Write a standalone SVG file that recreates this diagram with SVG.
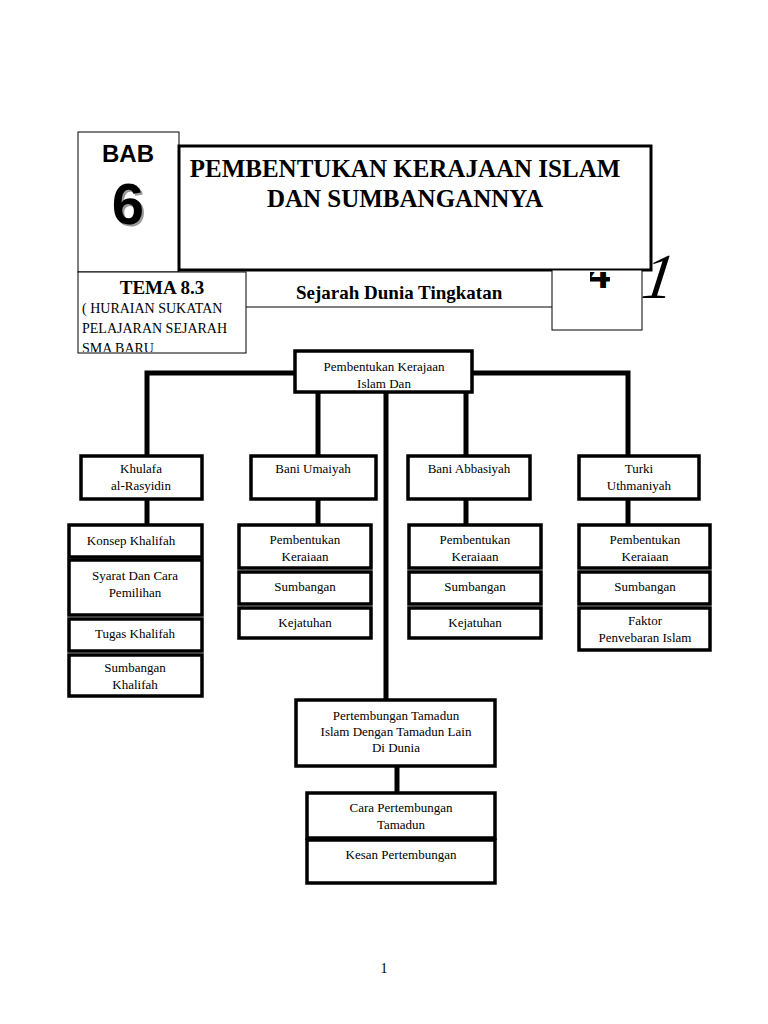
<svg xmlns="http://www.w3.org/2000/svg" width="768" height="1024" viewBox="0 0 768 1024">
<style>
.thin{fill:#fff;stroke:#000;stroke-width:1}
.box{fill:#fff;stroke:#000;stroke-width:3.5}
.t{font-family:"Liberation Serif",serif;font-size:13px;text-anchor:middle;fill:#000}
.c{stroke:#000;stroke-width:5;fill:none}
</style>
<defs>
<clipPath id="rc"><rect x="296" y="352" width="175" height="39"/></clipPath>
<clipPath id="tc"><rect x="78" y="340" width="168" height="12"/></clipPath>
<clipPath id="fc"><rect x="590" y="272" width="20" height="16"/></clipPath>
</defs>
<rect width="768" height="1024" fill="#fff"/>
<g id="header">
<text x="658" y="298" font-family="Liberation Serif,serif" font-style="italic" font-size="64" text-anchor="middle" transform="skewX(-8) translate(40,0)">1</text>
<rect class="thin" x="78" y="132" width="101" height="140"/>
<text x="128" y="162" font-family="Liberation Sans,sans-serif" font-weight="bold" font-size="24" text-anchor="middle">BAB</text>
<text x="130" y="226" font-family="Liberation Sans,sans-serif" font-weight="bold" font-size="58" text-anchor="middle" fill="#999">6</text>
<text x="128" y="224" font-family="Liberation Sans,sans-serif" font-weight="bold" font-size="58" text-anchor="middle">6</text>
<rect x="179" y="146" width="472" height="124" fill="#fff" stroke="#000" stroke-width="3"/>
<text x="405" y="177" font-family="Liberation Serif,serif" font-weight="bold" font-size="25" text-anchor="middle">PEMBENTUKAN KERAJAAN ISLAM</text>
<text x="405" y="207" font-family="Liberation Serif,serif" font-weight="bold" font-size="25" text-anchor="middle">DAN SUMBANGANNYA</text>
<rect class="thin" x="78" y="272" width="168" height="81"/>
<text x="162" y="294" font-family="Liberation Serif,serif" font-weight="bold" font-size="19" text-anchor="middle">TEMA 8.3</text>
<text x="82" y="313" font-family="Liberation Serif,serif" font-size="14">( HURAIAN SUKATAN</text>
<text x="82" y="333" font-family="Liberation Serif,serif" font-size="14">PELAJARAN SEJARAH</text>
<text x="82" y="353" font-family="Liberation Serif,serif" font-size="14" clip-path="url(#tc)">SMA BARU</text>
<line x1="246" y1="307" x2="552" y2="307" stroke="#000" stroke-width="1"/>
<text x="296" y="299" font-family="Liberation Serif,serif" font-weight="bold" font-size="19">Sejarah Dunia Tingkatan</text>
<rect class="thin" x="552" y="270" width="90" height="60"/>
<text x="598" y="288" font-family="Liberation Sans,sans-serif" font-weight="bold" font-size="44" text-anchor="middle" clip-path="url(#fc)">4</text>
</g>
<g id="connectors">
<polyline class="c" points="147,455 147,373 628,373 628,455"/>
<line class="c" x1="318" y1="373" x2="318" y2="455"/>
<line class="c" x1="466" y1="373" x2="466" y2="455"/>
<line class="c" x1="386" y1="393" x2="386" y2="700"/>
<line class="c" x1="147" y1="499" x2="147" y2="525"/>
<line class="c" x1="318" y1="499" x2="318" y2="525"/>
<line class="c" x1="466" y1="499" x2="466" y2="525"/>
<line class="c" x1="628" y1="499" x2="628" y2="525"/>
<line class="c" x1="397" y1="766" x2="397" y2="792"/>
</g>
<g id="root"><rect class="box" x="295" y="351" width="177" height="41"/>
<g clip-path="url(#rc)"><text class="t" x="384" y="371">Pembentukan Kerajaan</text><text class="t" x="384" y="388">Islam Dan</text></g></g>
<g id="khulafa"><rect class="box" x="81" y="456" width="121" height="43"/><text class="t" x="141" y="473">Khulafa</text><text class="t" x="141" y="490">al-Rasyidin</text></g>
<g id="umaiyah"><rect class="box" x="251" y="456" width="125" height="43"/><text class="t" x="313" y="473">Bani Umaiyah</text></g>
<g id="abbasiyah"><rect class="box" x="408" y="456" width="122" height="43"/><text class="t" x="469" y="473">Bani Abbasiyah</text></g>
<g id="turki"><rect class="box" x="579" y="456" width="120" height="43"/><text class="t" x="639" y="473">Turki</text><text class="t" x="639" y="490">Uthmaniyah</text></g>
<g id="k1"><rect class="box" x="69" y="525" width="133" height="32"/><text class="t" x="131" y="545">Konsep Khalifah</text></g>
<g id="k2"><rect class="box" x="69" y="560" width="133" height="55"/><text class="t" x="135" y="580">Syarat Dan Cara</text><text class="t" x="135" y="597">Pemilihan</text></g>
<g id="k3"><rect class="box" x="69" y="619" width="133" height="32"/><text class="t" x="135" y="638">Tugas Khalifah</text></g>
<g id="k4"><rect class="box" x="69" y="655" width="133" height="41"/><text class="t" x="135" y="672">Sumbangan</text><text class="t" x="135" y="689">Khalifah</text></g>
<g id="u1"><rect class="box" x="239" y="525" width="132" height="43"/><text class="t" x="305" y="544">Pembentukan</text><text class="t" x="305" y="561">Keraiaan</text></g>
<g id="u2"><rect class="box" x="239" y="572" width="132" height="32"/><text class="t" x="305" y="591">Sumbangan</text></g>
<g id="u3"><rect class="box" x="239" y="608" width="132" height="30"/><text class="t" x="305" y="627">Kejatuhan</text></g>
<g id="a1"><rect class="box" x="409" y="525" width="132" height="43"/><text class="t" x="475" y="544">Pembentukan</text><text class="t" x="475" y="561">Keraiaan</text></g>
<g id="a2"><rect class="box" x="409" y="572" width="132" height="32"/><text class="t" x="475" y="591">Sumbangan</text></g>
<g id="a3"><rect class="box" x="409" y="608" width="132" height="30"/><text class="t" x="475" y="627">Kejatuhan</text></g>
<g id="t1"><rect class="box" x="579" y="525" width="131" height="43"/><text class="t" x="645" y="544">Pembentukan</text><text class="t" x="645" y="561">Keraiaan</text></g>
<g id="t2"><rect class="box" x="579" y="572" width="131" height="32"/><text class="t" x="645" y="591">Sumbangan</text></g>
<g id="t3"><rect class="box" x="579" y="608" width="131" height="42"/><text class="t" x="645" y="625">Faktor</text><text class="t" x="645" y="642">Penvebaran Islam</text></g>
<g id="pertembungan"><rect class="box" x="296" y="700" width="199" height="66"/><text class="t" x="396" y="720">Pertembungan Tamadun</text><text class="t" x="396" y="736">Islam Dengan Tamadun Lain</text><text class="t" x="396" y="752">Di Dunia</text></g>
<g id="cara"><rect class="box" x="307" y="793" width="188" height="45"/><text class="t" x="401" y="812">Cara Pertembungan</text><text class="t" x="401" y="829">Tamadun</text></g>
<g id="kesan"><rect class="box" x="307" y="840" width="188" height="43"/><text class="t" x="401" y="859">Kesan Pertembungan</text></g>
<text x="384" y="973" font-family="Liberation Serif,serif" font-size="14" text-anchor="middle">1</text>
</svg>
